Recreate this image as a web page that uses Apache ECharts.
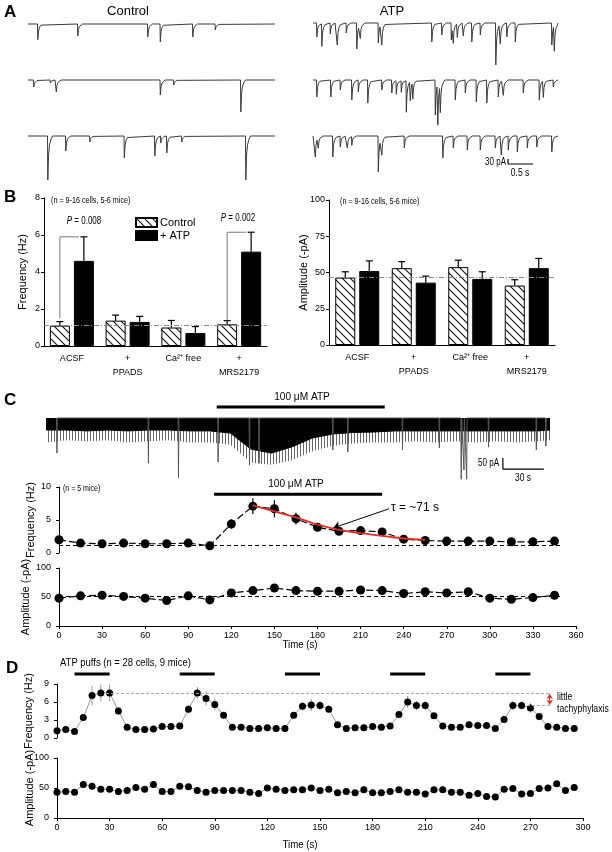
<!DOCTYPE html>
<html><head><meta charset="utf-8">
<script src="https://cdn.jsdelivr.net/npm/echarts@6/dist/echarts.min.js"></script>
<style>html,body{margin:0;padding:0;background:#fff}#c{width:612px;height:852px}</style>
</head><body><div id="c"></div>
<script>
// ================= DATA =================
// Panel A: miniature events, [time (s), amplitude (pA)]
const aDuration = 4.94;
const ctrlRow1 = [[0.19,94],[0.99,72],[2.39,78],[2.64,108],[3.29,78],[3.74,36]];
const ctrlRow2 = [[0.11,42],[0.44,18],[0.56,72],[2.64,90],[2.91,30],[4.25,192]];
const ctrlRow3 = [[0.39,264],[0.75,90],[1.23,36],[1.92,132],[2.53,120],[2.65,42],[2.77,102],[3.07,36],[4.35,264]];
const atpRow1 = [[0.07,84],[0.17,138],[0.34,66],[0.48,132],[0.66,60],[0.87,156],[0.94,84],[1.30,120],[1.37,126],[2.37,114],[2.57,72],[2.76,102],[2.80,108],[2.88,84],[3.00,78],[3.17,114],[3.34,72],[3.65,252],[3.74,120],[3.87,84],[4.04,114],[4.77,132],[4.82,162]];
const atpRow2 = [[0.07,102],[0.35,102],[0.54,60],[0.77,120],[0.90,72],[1.09,138],[1.37,60],[1.57,78],[1.66,84],[1.76,72],[1.86,192],[1.94,120],[1.99,108],[2.44,210],[2.49,258],[2.54,180],[2.84,120],[3.04,78],[3.26,132],[3.47,138],[3.70,102],[3.80,90],[4.20,78],[4.52,120],[4.60,102],[4.80,42]];
const atpRow3 = [[0.04,126],[0.10,66],[0.39,126],[0.54,66],[0.68,72],[0.77,54],[1.30,216],[1.37,102],[1.82,72],[2.59,132],[2.80,72],[3.08,84],[3.34,84],[3.64,72],[3.76,114],[3.90,84],[4.08,96],[4.28,72],[4.47,66],[4.77,96]];
const aScale = {t0:3.9, v0:-138, pA:30, s:0.5};

// Panel B
const bCats = ['ACSF','+\nPPADS','Ca\u00B2\u207A free','+\nMRS2179'];
const freqCtrl = [1.1, 1.37, 1.0, 1.17];
const freqCtrlErr = [0.22, 0.3, 0.38, 0.2];
const freqATP = [4.6, 1.3, 0.7, 5.1];
const freqATPErr = [1.3, 0.3, 0.35, 1.05];
const ampCtrl = [46.5, 53, 53.7, 41];
const ampCtrlErr = [4, 4.5, 4.8, 4];
const ampATP = [51, 43, 45.6, 53];
const ampATPErr = [7, 4.5, 4.9, 6.7];
const freqRef = 1.1, ampRef = 46.5;
const pBrackets = [[0, 1.5, 5.9], [3, 1.37, 6.15]];

// Panel C: continuous trace (time s, depth pA)
const cTraceT      = [0,15,30,45,60,75,90,105,120,135,150,165,180,195,210,225,240,255,270,285,300,315,330,345,360,369];
const cBandDepth   = [54,54,58,54,58,54,54,58,58,68,140,158,130,90,72,65,63,58,58,58,58,58,58,58,58,54];
const cFringeDepth = [110,100,105,100,110,105,100,110,110,120,200,210,190,150,125,115,110,110,105,110,105,110,105,110,105,100];
const cSpikes = [[8,158],[75,203],[97,270],[126,198],[149,212],[156,203],[210,144],[221,153],[261,144],[288,135],[304,275],[306,234],[308,275],[324,131],[359,144],[366,126]];
const cTraceATP = [[125,248]];
const cScale = {t0:334.5, v0:-180, pA:50, s:30};

const cTime = [0,15,30,45,60,75,90,105,120,135,150,165,180,195,210,225,240,255,270,285,300,315,330,345];
const cFreq = [2.0,1.5,1.4,1.5,1.4,1.4,1.5,1.1,4.4,7.1,6.7,5.2,3.9,3.3,3.4,3.2,2.1,1.9,1.8,1.8,1.8,1.7,1.7,1.8];
const cFreqErr = [0.3,0.2,0.2,0.2,0.2,0.2,0.2,0.2,0.7,1.2,1.3,0.9,0.6,0.5,0.4,0.3,0.3,0.2,0.2,0.2,0.2,0.2,0.2,0.2];
const cFitT = [135,150,165,180,195,210,225,240,255];
const cFitV = [7.2,6.3,5.4,4.3,3.5,3.0,2.6,2.2,2.0];
const cFreqRef = 1.15;
const cFreqATP = [[108,225]];
const cAmp = [48,52,53,51,48,44,52,45,57,61,65.5,61,60,60,62,61,56,59,57,59,48,46,49,53];
const cAmpErr = [2,2,5,2,2,2,4,2,2,2,2,2,2,2,2,2,2,2,2,2,2,2,2,2];
const cAmpRef = 52;

// Panel D
const dTime = [0,5,10,15,20,25,30,35,40,45,50,55,60,65,70,75,80,85,90,95,100,105,110,115,120,125,130,135,140,145,150,155,160,165,170,175,180,185,190,195,200,205,210,215,220,225,230,235,240,245,250,255,260,265,270,275,280,285,290,295];
const dFreq = [1.2,1.4,1.1,3.4,7.1,7.5,7.5,4.5,1.8,1.4,1.4,1.5,1.9,1.9,2.0,4.8,7.5,6.6,5.6,3.8,1.8,1.8,1.6,1.6,1.7,1.6,1.6,3.8,5.3,5.5,5.4,4.8,2.2,1.6,1.7,1.7,1.9,1.8,2.0,3.9,6.0,5.4,5.4,3.7,2.0,1.8,1.8,2.2,2.1,2.1,1.6,3.1,5.4,5.4,5.0,3.6,1.9,1.8,1.6,1.6];
const dFreqErr = [0.3,0.3,0.3,0.4,1.6,1.4,1.4,0.6,0.3,0.3,0.3,0.3,0.3,0.3,0.3,0.7,1.0,1.2,1.0,0.4,0.3,0.3,0.3,0.3,0.3,0.3,0.3,0.4,0.7,1.0,0.8,0.6,0.3,0.3,0.3,0.3,0.3,0.3,0.3,0.5,1.0,0.8,0.8,0.4,0.3,0.3,0.3,0.3,0.3,0.3,0.3,0.4,0.8,0.7,0.8,0.4,0.3,0.3,0.3,0.3];
const dAmp = [43,44,43,56,53,48,48,44,46,51,48,56,44,44,53,52,46,43,46,46,46,46,43,41,50,48,46,47,47,50,46,48,42,44,42,47,42,42,44,47,43,43,40,47,47,43,43,38,41,36,35,48,49,40,41,49,50,57,46,51];
const dAmpErr = [3,3,3,3,5,3,3,3,3,3,3,3,3,3,3,3,3,3,3,3,3,3,3,3,3,3,3,3,3,3,3,3,3,3,3,3,3,3,3,3,3,3,3,3,3,3,3,3,3,3,3,3,3,3,3,3,3,3,3,3];
const dPuffs = [[10,30],[70,90],[130,150],[190,210],[250,270]];
const dPeakRef = 7.5, dLastPeak = 5.4;

// ================= BUILD =================
const FONT = "'Liberation Sans', Arial, sans-serif";

function buildTrace(events, tEnd) {
  const pts = [[0, 0]];
  const shape = [[0.02, 0.45], [0.04, 0.2], [0.07, 0.07], [0.1, 0]];
  events.forEach((e, i) => {
    const t = e[0], a = e[1];
    const next = i < events.length - 1 ? events[i + 1][0] : tEnd;
    const last = pts[pts.length - 1];
    pts.push([t, last[0] < t ? last[1] * 0.9 : last[1]]);
    pts.push([t + 0.006, -a + Math.min(0, last[1]) * 0.3]);
    for (const [dt, f] of shape) if (t + dt < next - 0.003) pts.push([t + dt, -a * f]);
  });
  pts.push([tEnd, 0]);
  return pts;
}

const hatch = document.createElement('canvas');
hatch.width = 8; hatch.height = 8;
(function () {
  const g = hatch.getContext('2d');
  g.fillStyle = '#fff'; g.fillRect(0, 0, 8, 8);
  g.strokeStyle = '#111'; g.lineWidth = 1.1;
  g.beginPath();
  g.moveTo(0, 0); g.lineTo(8, 8);
  g.moveTo(-1, 7); g.lineTo(1, 9);
  g.moveTo(7, -1); g.lineTo(9, 1);
  g.stroke();
})();
const stripe = document.createElement('canvas');
stripe.width = 3; stripe.height = 4;
(function () {
  const g = stripe.getContext('2d');
  g.fillStyle = '#666'; g.fillRect(0, 0, 1, 4);
})();

const grids = [], xAxes = [], yAxes = [], series = [];
function addGrid(g, xa, ya) {
  grids.push(g);
  const i = grids.length - 1;
  xAxes.push(Object.assign({ gridIndex: i }, xa));
  yAxes.push(Object.assign({ gridIndex: i }, ya));
  return i;
}
const hiddenVal = (min, max) => ({ type: 'value', min, max, show: false, splitLine: { show: false } });
const axLine = { show: true, lineStyle: { color: '#000', width: 1 } };
const axTick = { show: true, length: 3, lineStyle: { color: '#000' } };
function yAx(min, max, interval, name, gap, offset) {
  return {
    type: 'value', min, max, interval, offset: offset || 0,
    axisLine: axLine, axisTick: axTick, splitLine: { show: false },
    axisLabel: { fontSize: 9, color: '#000', margin: 4 },
    name, nameLocation: 'middle', nameGap: gap, nameMoveOverlap: false,
    nameTextStyle: { fontSize: 11, color: '#000', fontFamily: FONT }
  };
}
function xTimeAx(max, showAxis) {
  if (!showAxis) return { type: 'value', min: 0, max, interval: 30, show: false, splitLine: { show: false } };
  return {
    type: 'value', min: 0, max, interval: 30,
    axisLine: Object.assign({ onZero: false }, axLine), axisTick: axTick, splitLine: { show: false },
    axisLabel: { fontSize: 9, color: '#000', margin: 5 }
  };
}
function errSeries(ax, xs, ys, es, color, lw) {
  return {
    type: 'custom', xAxisIndex: ax, yAxisIndex: ax, silent: true, z: 3,
    data: xs.map((x, i) => [x, ys[i], es[i]]),
    renderItem(p, api) {
      const x = api.value(0), y = api.value(1), e = api.value(2);
      const a = api.coord([x, y - e]), b = api.coord([x, y + e]);
      return { type: 'line', shape: { x1: a[0], y1: a[1], x2: b[0], y2: b[1] }, style: { stroke: color, lineWidth: lw } };
    }
  };
}
function spanSeries(ax, spans, level, width) {
  return {
    type: 'custom', xAxisIndex: ax, yAxisIndex: ax, silent: true, z: 5,
    data: spans.map(s => [s[0], s[1]]),
    renderItem(p, api) {
      const a = api.coord([api.value(0), level]), b = api.coord([api.value(1), level]);
      return { type: 'line', shape: { x1: a[0], y1: a[1], x2: b[0], y2: b[1] }, style: { stroke: '#000', lineWidth: width } };
    }
  };
}

// ----- Panel A -----
const aCtrl = [ctrlRow1, ctrlRow2, ctrlRow3], aATP = [atpRow1, atpRow2, atpRow3];
const aTopCtrl = [20, 76, 132], aTopATP = [19, 76, 132];
let aLastATP = 0;
aCtrl.forEach((ev, k) => {
  const i = addGrid({ left: 28, top: aTopCtrl[k], width: 247, height: 60 }, hiddenVal(0, aDuration), hiddenVal(-336, 24));
  series.push({ type: 'line', xAxisIndex: i, yAxisIndex: i, data: buildTrace(ev, aDuration), symbol: 'none', silent: true, lineStyle: { color: '#3a3a3a', width: 1 } });
});
aATP.forEach((ev, k) => {
  const i = addGrid({ left: 313, top: aTopATP[k], width: 247, height: 60 }, hiddenVal(0, aDuration), hiddenVal(-336, 24));
  series.push({ type: 'line', xAxisIndex: i, yAxisIndex: i, data: buildTrace(ev, 4.9), symbol: 'none', silent: true, lineStyle: { color: '#3a3a3a', width: 1 } });
  aLastATP = i;
});
series.push({ type: 'line', xAxisIndex: aLastATP, yAxisIndex: aLastATP, symbol: 'none', silent: true,
  data: [[aScale.t0, aScale.v0], [aScale.t0, aScale.v0 - aScale.pA], [aScale.t0 + aScale.s, aScale.v0 - aScale.pA]],
  lineStyle: { color: '#000', width: 1.2 } });

// ----- Panel B -----
function catAx() {
  return { type: 'category', data: bCats, axisLine: axLine, axisTick: { show: false },
    axisLabel: { fontSize: 9, color: '#000', margin: 6, lineHeight: 14, interval: 0 } };
}
function barErr(ax, vals, errs, off) {
  return {
    type: 'custom', xAxisIndex: ax, yAxisIndex: ax, silent: true, z: 4,
    data: vals.map((v, i) => [i, v, errs[i]]),
    renderItem(p, api) {
      const i = api.value(0), v = api.value(1), e = api.value(2);
      const a = api.coord([i, v]), b = api.coord([i, v + e]);
      const x = a[0] + off;
      return { type: 'group', children: [
        { type: 'line', shape: { x1: x, y1: a[1], x2: x, y2: b[1] }, style: { stroke: '#000', lineWidth: 1.2 } },
        { type: 'line', shape: { x1: x - 3.5, y1: b[1], x2: x + 3.5, y2: b[1] }, style: { stroke: '#000', lineWidth: 1.2 } }
      ] };
    }
  };
}
const refLine = (v) => ({ silent: true, symbol: 'none', label: { show: false },
  lineStyle: { color: '#8a8a8a', type: [5, 2, 1, 2], width: 1 }, data: [{ yAxis: v }] });
const gBL = addGrid({ left: 44, top: 198, width: 223, height: 148 }, catAx(), yAx(0, 8, 2, 'Frequency (Hz)', 16));
const gBR = addGrid({ left: 329, top: 200, width: 226, height: 145 }, catAx(), yAx(0, 100, 25, 'Amplitude (-pA)', 20));
[[gBL, freqCtrl, freqCtrlErr, freqATP, freqATPErr, freqRef], [gBR, ampCtrl, ampCtrlErr, ampATP, ampATPErr, ampRef]].forEach(([g, c, ce, a, ae, ref]) => {
  series.push({ name: 'Control', type: 'bar', xAxisIndex: g, yAxisIndex: g, data: c, barWidth: 20, barGap: '20%', silent: true,
    itemStyle: { color: { image: hatch, repeat: 'repeat' }, borderColor: '#000', borderWidth: 1 }, markLine: refLine(ref) });
  series.push({ name: '+ ATP', type: 'bar', xAxisIndex: g, yAxisIndex: g, data: a, barWidth: 20, barGap: '20%', silent: true,
    itemStyle: { color: '#000', borderColor: '#000', borderWidth: 1 } });
  series.push(barErr(g, c, ce, -12));
  series.push(barErr(g, a, ae, 12));
});
series.push({
  type: 'custom', xAxisIndex: gBL, yAxisIndex: gBL, silent: true, z: 4, data: pBrackets,
  renderItem(p, api) {
    const lo = api.coord([api.value(0), api.value(1)]), hi = api.coord([api.value(0), api.value(2)]);
    const x0 = lo[0] - 12, x1 = lo[0] + 7;
    return { type: 'polyline', shape: { points: [[x0, lo[1]], [x0, hi[1]], [x1, hi[1]]] }, style: { stroke: '#777', lineWidth: 1, fill: null } };
  }
});

// ----- Panel C -----
const gCT = addGrid({ left: 46, top: 404, width: 504, height: 80 }, hiddenVal(0, 369), hiddenVal(-297, 63));
series.push({ type: 'line', xAxisIndex: gCT, yAxisIndex: gCT, symbol: 'none', silent: true, lineStyle: { width: 0 },
  areaStyle: { color: { image: stripe, repeat: 'repeat' }, opacity: 1 }, data: cTraceT.map((t, i) => [t, -cFringeDepth[i]]) });
series.push({ type: 'line', xAxisIndex: gCT, yAxisIndex: gCT, symbol: 'none', silent: true, lineStyle: { width: 1, color: '#000' },
  areaStyle: { color: '#000', opacity: 1 }, data: cTraceT.map((t, i) => [t, -cBandDepth[i]]) });
const spikePts = [];
cSpikes.forEach(s => { spikePts.push([s[0] - 0.3, 0], [s[0], -s[1]], [s[0] + 0.3, 0]); });
series.push({ type: 'line', xAxisIndex: gCT, yAxisIndex: gCT, symbol: 'none', silent: true, lineStyle: { width: 1, color: '#555' }, data: spikePts });
series.push(spanSeries(gCT, cTraceATP, 49.5, 3));
series.push({ type: 'line', xAxisIndex: gCT, yAxisIndex: gCT, symbol: 'none', silent: true,
  data: [[cScale.t0, cScale.v0], [cScale.t0, cScale.v0 - cScale.pA], [cScale.t0 + cScale.s, cScale.v0 - cScale.pA]],
  lineStyle: { color: '#000', width: 1.2 } });

const gCF = addGrid({ left: 59, top: 487, width: 517, height: 66 }, xTimeAx(360, false), yAx(0, 10, 5, 'Frequency (Hz)', 19, 4));
series.push(errSeries(gCF, cTime, cFreq, cFreqErr, '#000', 1.2));
series.push({ type: 'line', xAxisIndex: gCF, yAxisIndex: gCF, data: cTime.map((t, i) => [t, cFreq[i]]), silent: true,
  symbol: 'circle', symbolSize: 9, itemStyle: { color: '#000' }, lineStyle: { color: '#000', width: 1.2, type: [7, 3] }, z: 4,
  markLine: { silent: true, symbol: 'none', label: { show: false }, lineStyle: { color: '#000', type: [4, 3], width: 1 },
    data: [[{ coord: [0, cFreqRef] }, { coord: [350, cFreqRef] }]] } });
series.push({ type: 'line', xAxisIndex: gCF, yAxisIndex: gCF, data: cFitT.map((t, i) => [t, cFitV[i]]), silent: true, smooth: true,
  symbol: 'none', lineStyle: { color: '#e0302c', width: 1.8 }, z: 6,
  markLine: { silent: true, symbol: ['none', 'arrow'], symbolSize: 7, label: { show: false },
    lineStyle: { color: '#000', type: 'solid', width: 1 },
    data: [[{ coord: [229.8, 6.7] }, { coord: [191, 3.8] }]] } });
series.push(spanSeries(gCF, cFreqATP, 8.9, 3));

const gCA = addGrid({ left: 59, top: 568, width: 517, height: 58 }, xTimeAx(360, true), yAx(0, 100, 50, 'Amplitude (-pA)', 24, 4));
series.push(errSeries(gCA, cTime, cAmp, cAmpErr, '#000', 1.2));
series.push({ type: 'line', xAxisIndex: gCA, yAxisIndex: gCA, data: cTime.map((t, i) => [t, cAmp[i]]), silent: true,
  symbol: 'circle', symbolSize: 9, itemStyle: { color: '#000' }, lineStyle: { color: '#000', width: 1.2, type: [7, 3] }, z: 4,
  markLine: { silent: true, symbol: 'none', label: { show: false }, lineStyle: { color: '#000', type: [4, 3], width: 1 },
    data: [[{ coord: [0, cAmpRef] }, { coord: [350, cAmpRef] }]] } });

// ----- Panel D -----
const gDP = addGrid({ left: 57, top: 670, width: 526, height: 8 }, hiddenVal(0, 300), hiddenVal(0, 1));
series.push(spanSeries(gDP, dPuffs, 0.5, 3));
const gDF = addGrid({ left: 57, top: 684, width: 526, height: 54 }, xTimeAx(300, false), yAx(0, 9, 3, 'Frequency (Hz)', 19, 4));
series.push(errSeries(gDF, dTime, dFreq, dFreqErr, '#999', 1));
series.push({ type: 'line', xAxisIndex: gDF, yAxisIndex: gDF, data: dTime.map((t, i) => [t, dFreq[i]]), silent: true,
  symbol: 'circle', symbolSize: 7, itemStyle: { color: '#000' }, lineStyle: { color: '#999', width: 1 }, z: 4,
  markLine: { silent: true, symbol: 'none', label: { show: false }, lineStyle: { color: '#aaa', type: [3, 2], width: 1 },
    data: [
      [{ coord: [28, dPeakRef] }, { coord: [281, dPeakRef] }],
      [{ coord: [268, dLastPeak] }, { coord: [281, dLastPeak] }],
      [{ coord: [281, dLastPeak + 0.15], symbol: 'arrow', symbolSize: 5, lineStyle: { color: '#e0302c', type: 'solid', width: 1.2 } },
       { coord: [281, dPeakRef - 0.15], symbol: 'arrow', symbolSize: 5 }]
    ] } });
const gDA = addGrid({ left: 57, top: 758, width: 526, height: 60 }, xTimeAx(300, true), yAx(0, 100, 50, 'Amplitude (-pA)', 18, 4));
series.push(errSeries(gDA, dTime, dAmp, dAmpErr, '#999', 1));
series.push({ type: 'line', xAxisIndex: gDA, yAxisIndex: gDA, data: dTime.map((t, i) => [t, dAmp[i]]), silent: true,
  symbol: 'circle', symbolSize: 7, itemStyle: { color: '#000' }, lineStyle: { color: '#999', width: 1 }, z: 4 });

// ----- text -----
function txt(text, x, y, size, opts, sx) {
  return { type: 'text', x, y, silent: true, scaleX: sx || 1,
    style: Object.assign({ text, fontSize: size, fontFamily: FONT, fill: '#000', align: 'left', verticalAlign: 'middle' }, (opts || {})) };
}
const richP = { i: { fontStyle: 'italic', fontSize: 10, fontFamily: FONT } };
const graphics = [
  txt('A', 4, 12, 17, { fontWeight: 'bold' }),
  txt('Control', 128, 11, 13, { align: 'center' }),
  txt('ATP', 392, 11, 13, { align: 'center' }),
  txt('30 pA', 506, 162, 10, { align: 'right' }, 0.8),
  txt('0.5 s', 520, 173, 10, { align: 'center' }, 0.85),
  txt('B', 4, 197, 17, { fontWeight: 'bold' }),
  txt('(n = 9-16 cells, 5-6 mice)', 51, 201, 9, {}, 0.8),
  txt('(n = 9-16 cells, 5-6 mice)', 340, 202, 9, {}, 0.8),
  txt('{i|P} = 0.008', 84, 221, 10, { align: 'center', rich: richP }, 0.8),
  txt('{i|P} = 0.002', 238, 218, 10, { align: 'center', rich: richP }, 0.8),
  txt('C', 4, 400, 17, { fontWeight: 'bold' }),
  txt('100 \u03BCM ATP', 302, 397, 11.5, { align: 'center' }, 0.88),
  txt('50 pA', 499, 463, 10, { align: 'right' }, 0.8),
  txt('30 s', 523, 478, 10, { align: 'center' }, 0.85),
  txt('100 \u03BCM ATP', 296, 484, 11.5, { align: 'center' }, 0.88),
  txt('(n = 5 mice)', 63, 489, 9, {}, 0.78),
  txt('\u03C4 = ~71 s', 391, 507, 13, {}, 0.92),
  txt('Time (s)', 300, 645, 11, { align: 'center' }, 0.88),
  txt('D', 6, 668, 17, { fontWeight: 'bold' }),
  txt('ATP puffs (n = 28 cells, 9 mice)', 60, 663, 11, {}, 0.86),
  txt('little', 557, 697, 10.5, {}, 0.82),
  txt('tachyphylaxis', 557, 709, 10.5, {}, 0.82),
  txt('Time (s)', 300, 845, 11, { align: 'center' }, 0.88)
];

const chart = echarts.init(document.getElementById('c'), null, { renderer: 'canvas' });
chart.setOption({
  animation: false,
  backgroundColor: '#fff',
  textStyle: { fontFamily: FONT },
  grid: grids.map(g => Object.assign({ containLabel: false }, g)),
  xAxis: xAxes,
  yAxis: yAxes,
  legend: {
    data: ['Control', '+ ATP'], orient: 'vertical', left: 130, top: 212, itemWidth: 21, itemHeight: 9, itemGap: 2,
    textStyle: { fontSize: 11, color: '#000', padding: [0, 0, 0, -2] }, selectedMode: false, icon: 'rect'
  },
  series,
  graphic: graphics
});
</script>
</body></html>
